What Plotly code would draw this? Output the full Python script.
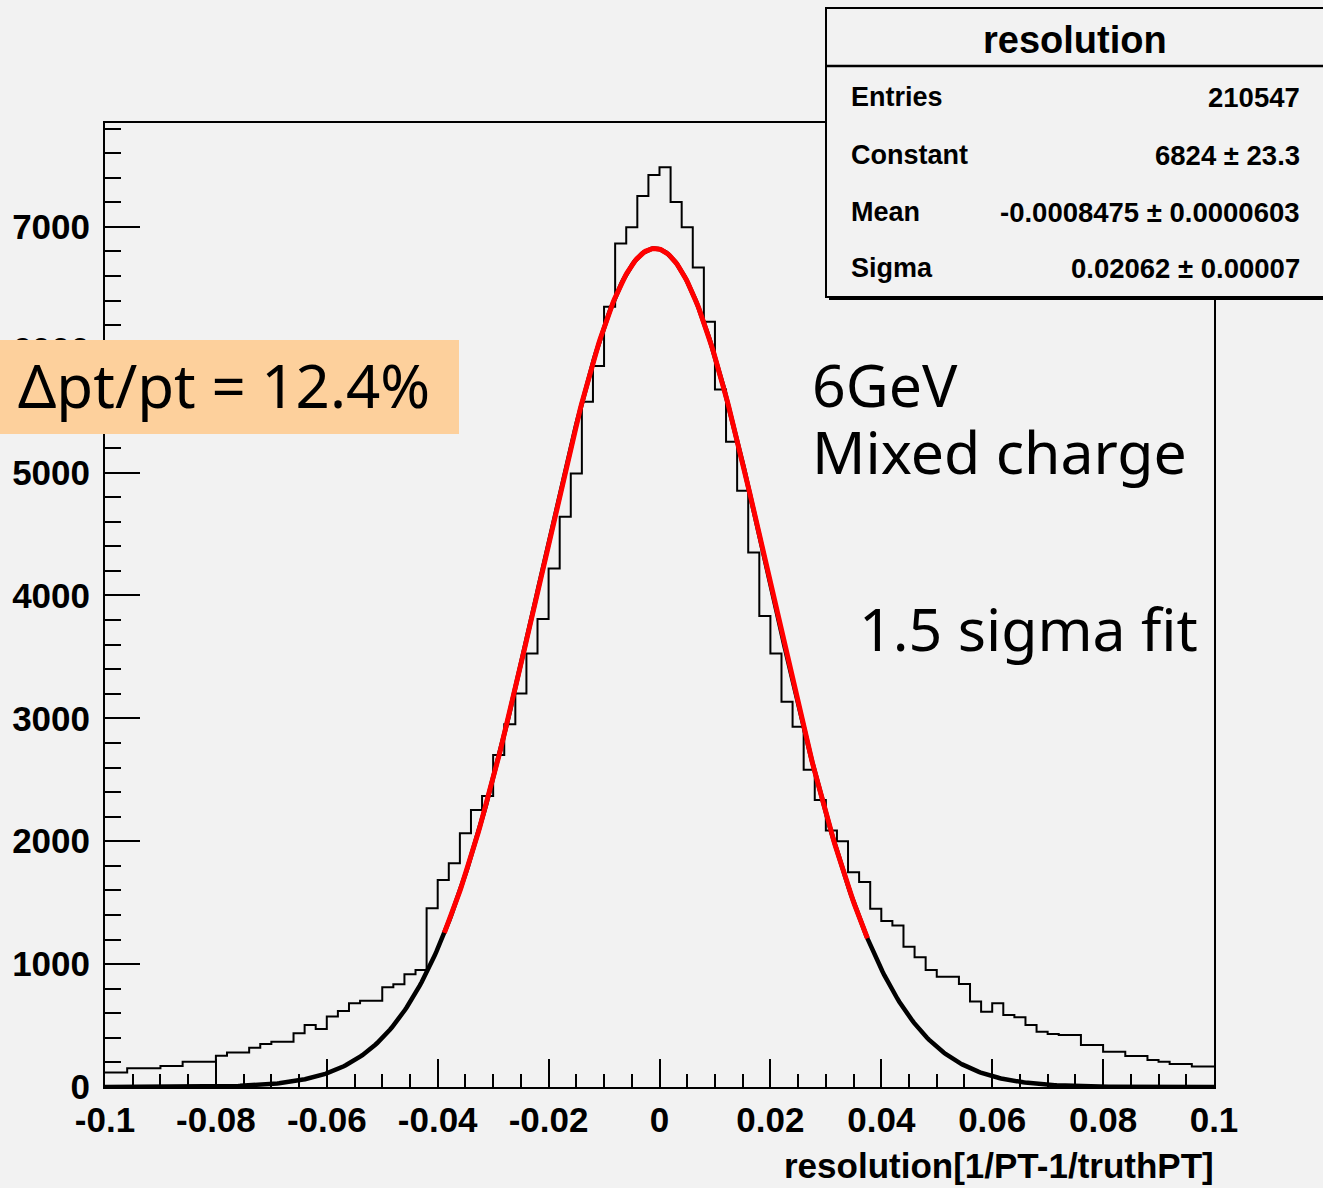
import numpy as np
import plotly.graph_objects as go

# ---------------- data ----------------
BIN_LOW, BIN_HIGH, N_BINS = -0.1, 0.1, 100
counts = [
    117, 117, 152, 152, 152, 171, 171, 206, 206, 206,
    255, 280, 280, 320, 350, 369, 369, 437, 504, 472,
    573, 618, 681, 702, 702, 811, 836, 917, 952, 1454,
    1684, 1820, 2064, 2254, 2368, 2701, 2953, 3203, 3528, 3808,
    4220, 4641, 4993, 5577, 5867, 6350, 6865, 6996, 7250, 7422,
    7485, 7202, 6996, 6670, 6228, 5677, 5251, 4852, 4350, 3832,
    3528, 3135, 2932, 2582, 2336, 2088, 2000, 1748, 1668, 1450,
    1350, 1314, 1142, 1055, 952, 898, 898, 838, 695, 613,
    681, 586, 567, 504, 450, 431, 423, 423, 342, 342,
    287, 287, 252, 252, 220, 206, 187, 187, 166, 166,
]
FIT_CONSTANT = 6824.0
FIT_MEAN = -0.0008475
FIT_SIGMA = 0.02062
FIT_RANGE = [-0.0388, 0.0375]

x_tickvals = [-0.1, -0.08, -0.06, -0.04, -0.02, 0, 0.02, 0.04, 0.06, 0.08, 0.1]
x_ticktext = ["-0.1", "-0.08", "-0.06", "-0.04", "-0.02", "0", "0.02", "0.04", "0.06", "0.08", "0.1"]
y_tickvals = [0, 1000, 2000, 3000, 4000, 5000, 6000, 7000]
y_ticktext = ["0", "1000", "2000", "3000", "4000", "5000", "6000", "7000"]

stats_title = "resolution"
stats_labels = ["Entries", "Constant", "Mean", "Sigma"]
stats_values = ["210547", "6824 ± 23.3", "-0.0008475 ± 0.0000603", "0.02062 ± 0.00007"]

# ---------------- geometry helpers ----------------
W, H = 1323, 1188
L, R, T, B = 105, 1214, 123, 1087


def px(x):
    return (x - L) / (R - L)


def py(y):
    return (B - y) / (B - T)


edges = np.linspace(BIN_LOW, BIN_HIGH, N_BINS + 1)
hist_x = list(edges)
hist_y = list(counts) + [counts[-1]]


def gaus(x):
    return FIT_CONSTANT * np.exp(-0.5 * ((x - FIT_MEAN) / FIT_SIGMA) ** 2)


xf_all = np.linspace(BIN_LOW, BIN_HIGH, 600)
xf_fit = np.linspace(FIT_RANGE[0], FIT_RANGE[1], 300)

BG = "#f2f2f2"
AXFONT = "Liberation Sans, Arial, sans-serif"
TXTFONT = "Noto Sans, Open Sans, sans-serif"

fig = go.Figure()
fig.add_trace(go.Scatter(x=hist_x, y=hist_y, mode="lines", line=dict(shape="hv", color="black", width=2),
                         hoverinfo="skip", showlegend=False))
fig.add_trace(go.Scatter(x=xf_all, y=gaus(xf_all), mode="lines", line=dict(color="black", width=4.5),
                         hoverinfo="skip", showlegend=False, cliponaxis=False))
fig.add_trace(go.Scatter(x=xf_fit, y=gaus(xf_fit), mode="lines", line=dict(color="#ff0000", width=5),
                         hoverinfo="skip", showlegend=False))

fig.update_layout(
    width=W, height=H,
    margin=dict(l=L, r=W - R, t=T, b=H - B, autoexpand=False),
    paper_bgcolor=BG, plot_bgcolor=BG,
    font=dict(family=AXFONT, color="black"),
    showlegend=False,
)
fig.update_xaxes(
    range=[BIN_LOW, BIN_HIGH], tickvals=x_tickvals, ticktext=x_ticktext, tickangle=0,
    ticks="inside", ticklen=28, tickwidth=2, tickcolor="black",
    minor=dict(dtick=0.005, ticks="inside", ticklen=13, tickwidth=2, tickcolor="black"),
    showline=True, linecolor="black", linewidth=2, mirror=True,
    showgrid=False, zeroline=False, automargin=False, ticklabelstandoff=1,
    tickfont=dict(family=AXFONT, size=35, color="black", weight="bold"),
)
fig.update_yaxes(
    range=[0, 7845], tickvals=y_tickvals, ticktext=y_ticktext,
    ticks="inside", ticklen=35, tickwidth=2, tickcolor="black",
    minor=dict(dtick=200, ticks="inside", ticklen=16, tickwidth=2, tickcolor="black"),
    showline=True, linecolor="black", linewidth=2, mirror=True,
    showgrid=False, zeroline=False, automargin=False, ticklabelstandoff=6,
    tickfont=dict(family=AXFONT, size=35, color="black", weight="bold"),
)

shapes = [
    # orange label box
    dict(type="rect", xref="paper", yref="paper", x0=px(-5), x1=px(459), y0=py(434), y1=py(340),
         fillcolor="#fdd09c", line=dict(width=0), layer="above"),
    # stats box shadow
    dict(type="line", xref="paper", yref="paper", x0=px(829), x1=px(1330), y0=py(299), y1=py(299),
         line=dict(color="black", width=2), layer="above"),
    # stats box
    dict(type="rect", xref="paper", yref="paper", x0=px(826), x1=px(1335), y0=py(297), y1=py(8),
         fillcolor=BG, line=dict(color="black", width=2), layer="above"),
    dict(type="line", xref="paper", yref="paper", x0=px(826), x1=px(1335), y0=py(66), y1=py(66),
         line=dict(color="black", width=2.5), layer="above"),
]
fig.update_layout(shapes=shapes)

ann = []
ann.append(dict(text=stats_title, x=px(1075), y=py(40), xanchor="center", yanchor="middle",
                font=dict(family=AXFONT, size=38, weight="bold")))
row_y = [97, 155, 212, 268]
for lab, val, yy in zip(stats_labels, stats_values, row_y):
    ann.append(dict(text=lab, x=px(849), y=py(yy), xanchor="left", yanchor="middle",
                    font=dict(family=AXFONT, size=27, weight="bold")))
    ann.append(dict(text=val, x=px(1302), y=py(yy), xanchor="right", yanchor="middle",
                    font=dict(family=AXFONT, size=27.5, weight="bold")))
ann.append(dict(text="resolution[1/PT-1/truthPT]", x=px(1216), y=py(1165), xanchor="right", yanchor="middle",
                font=dict(family=AXFONT, size=35, weight="bold")))
ann.append(dict(text="Δpt/pt = 12.4%", x=px(16), y=py(385), xanchor="left", yanchor="middle",
                font=dict(family=TXTFONT, size=60, color="black")))
ann.append(dict(text="6GeV", x=px(810), y=py(384), xanchor="left", yanchor="middle",
                font=dict(family=TXTFONT, size=59, color="black")))
ann.append(dict(text="Mixed charge", x=px(810), y=py(451), xanchor="left", yanchor="middle",
                font=dict(family=TXTFONT, size=59, color="black")))
ann.append(dict(text="1.5 sigma fit", x=px(1200), y=py(628), xanchor="right", yanchor="middle",
                font=dict(family=TXTFONT, size=59, color="black")))
for a in ann:
    a.update(xref="paper", yref="paper", showarrow=False)
fig.update_layout(annotations=ann)

fig.write_html("out.html")
